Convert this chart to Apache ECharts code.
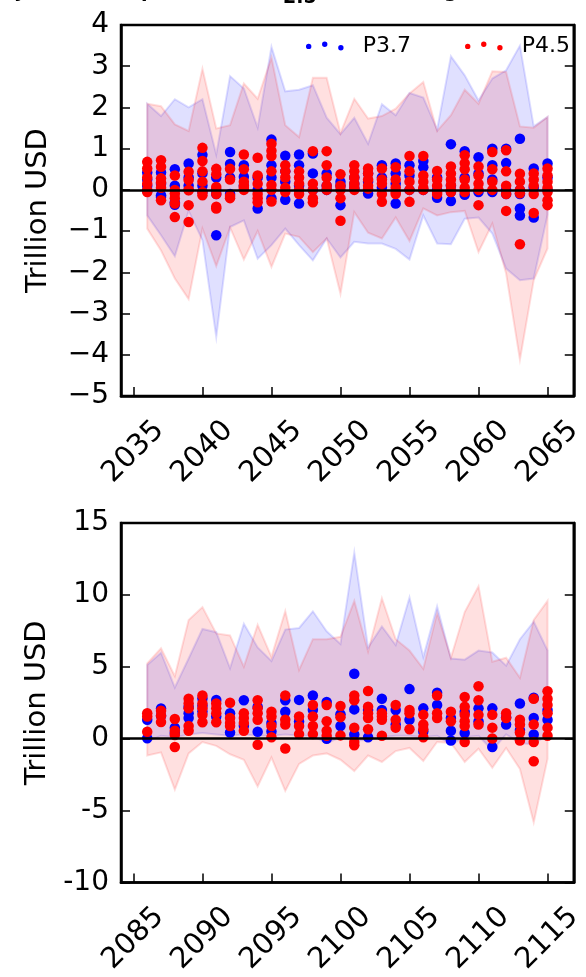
<!DOCTYPE html>
<html>
<head>
<meta charset="utf-8">
<script src="https://cdn.jsdelivr.net/npm/echarts@6/dist/echarts.min.js"></script>
<style>
  html, body { margin: 0; padding: 0; background: #fff; }
  #main { width: 586px; height: 977px; }
</style>
</head>
<body>
<div id="main"></div>
<script>
// years of each panel
const yearsTop = [2036, 2037, 2038, 2039, 2040, 2041, 2042, 2043, 2044, 2045,
  2046, 2047, 2048, 2049, 2050, 2051, 2052, 2053, 2054, 2055,
  2056, 2057, 2058, 2059, 2060, 2061, 2062, 2063, 2064, 2065];
const yearsBot = [2086, 2087, 2088, 2089, 2090, 2091, 2092, 2093, 2094, 2095,
  2096, 2097, 2098, 2099, 2100, 2101, 2102, 2103, 2104, 2105,
  2106, 2107, 2108, 2109, 2110, 2111, 2112, 2113, 2114, 2115];

// tick labels
const xTicksTop = [2035, 2040, 2045, 2050, 2055, 2060, 2065];
const xTicksBot = [2085, 2090, 2095, 2100, 2105, 2110, 2115];

// shaded bands (upper / lower)
const topHiP37 = [2.09, 1.79, 2.2, 2.0, 2.2, 0.86, 2.76, 2.46, 1.51, 3.47, 2.39, 2.43, 2.54, 1.75, 1.35,
  1.75, 1.12, 2.08, 1.81, 2.35, 2.24, 1.46, 3.24, 2.78, 2.17, 2.7, 2.9, 3.5, 1.54, 1.77];
const topLoP37 = [-0.62, -1.1, -1.61, -0.51, -1.22, -3.57, -0.9, -0.74, -1.67, -1.34, -0.94, -1.34, -1.71, -1.18, -1.64,
  -1.26, -1.3, -1.3, -1.43, -1.69, -0.62, -1.3, -1.32, -0.7, -0.67, -1.06, -1.91, -2.19, -2.15, -0.6];
const topHiP45 = [2.09, 2.03, 1.59, 1.43, 2.94, 1.49, 1.57, 2.58, 2.21, 3.21, 1.57, 1.28, 2.72, 2.72, 1.38,
  2.21, 1.73, 1.79, 1.97, 2.34, 2.62, 1.43, 1.81, 2.43, 2.09, 2.88, 2.86, 1.54, 1.51, 1.77];
const topLoP45 = [-0.94, -1.47, -2.15, -2.65, -0.94, -1.85, -0.91, -1.69, -1.0, -1.87, -1.06, -1.14, -1.51, -1.18, -2.52,
  -0.54, -1.04, -1.18, -0.67, -1.24, -0.45, -0.62, -0.54, -0.51, -1.51, -0.82, -2.03, -4.12, -2.19, -1.42];

const botHiP37 = [5.13, 5.98, 3.56, 5.58, 7.63, 7.41, 4.9, 7.99, 6.35, 5.4, 7.59, 7.7, 8.86, 7.47, 6.58,
  12.95, 6.35, 7.81, 6.51, 9.82, 5.69, 9.2, 5.58, 5.5, 6.13, 6.0, 5.08, 6.92, 8.14, 6.13];
const botLoP37 = [-0.2, 0.2, 0.1, 0.3, 0.4, 0.3, 0.2, 0.3, 0.2, 0.2, 0.3, 0.2, 0.2, -0.3, 0.1,
  -0.1, -0.1, 0.1, 0.2, 0.2, 0.1, 0.2, -0.4, 0.1, 0.2, -0.8, 0.3, -0.3, -0.4, 0.3];
const botHiP45 = [5.24, 6.29, 4.35, 8.26, 9.15, 7.32, 7.18, 5.01, 7.92, 5.69, 8.88, 4.79, 6.92, 6.92, 7.09,
  9.58, 6.07, 9.77, 6.92, 6.13, 4.86, 8.75, 5.63, 8.81, 10.6, 5.35, 5.63, 4.24, 8.26, 9.58];
const botLoP45 = [-1.17, -0.95, -3.54, -1.02, -0.23, -0.5, -1.08, -1.46, -3.32, -1.31, -3.63, -1.75, -1.17, -1.02, -1.46,
  -2.25, -1.17, -1.62, -0.86, -0.64, -1.55, -0.23, -0.3, -1.62, -0.7, -2.02, -0.64, -2.1, -5.82, -1.4];

// scatter values, one list per year
const topPtsP37 = [
  [0.42, 0.25, 0.1, -0.02], [0.42, 0.15, -0.17, -0.13], [0.5, 0.1, -0.36, -0.3], [0.64, 0.3, 0.1],
  [0.85, 0.4, 0.1, -0.05], [0.3, 0.0, -0.1, -1.1], [0.92, 0.63, 0.3, -0.1], [0.6, 0.32, 0.1],
  [0.3, 0.0, -0.45], [1.22, 0.6, 0.3, -0.2], [0.83, 0.45, 0.2, -0.24], [0.86, 0.6, 0.1, -0.33],
  [0.88, 0.4, 0.0], [0.4, 0.0, 0.1], [0.2, -0.37, 0.1], [0.3, 0.04, 0.15],
  [0.2, -0.09, 0.4], [0.3, 0.05, 0.6], [0.64, 0.4, 0.15, -0.33], [0.6, 0.35, 0.0],
  [0.7, 0.55, 0.0], [0.3, 0.0, -0.19], [1.11, 0.1, -0.27, -0.05], [0.94, 0.3, -0.12],
  [0.79, 0.4, -0.05], [1.0, 0.6, 0.25, -0.05], [1.0, 0.65, 0.0, -0.1], [1.24, 0.0, -0.1, -0.45, -0.62],
  [0.52, 0.05, -0.67], [0.64, 0.3, 0.0]
];
const topPtsP45 = [
  [0.68, 0.52, 0.3, 0.15, 0.0, -0.05], [0.72, 0.56, 0.28, 0.18, 0.05, -0.25], [0.35, 0.0, -0.09, -0.2, -0.33, -0.66],
  [0.44, 0.24, 0.0, -0.01, -0.37, -0.78], [1.02, 0.7, 0.45, 0.2, -0.05, -0.13], [0.51, 0.38, 0.07, -0.1, -0.41, -0.45],
  [0.51, 0.25, -0.15, -0.2], [0.86, 0.5, 0.2, 0.0, 0.05, 0.1], [0.78, 0.35, 0.15, -0.1, -0.2, -0.3],
  [1.12, 0.95, 0.82, 0.45, 0.12, 0.0, -0.28], [0.6, 0.45, 0.3, 0.05, -0.05], [0.45, 0.3, 0.15, 0.0, -0.1],
  [0.94, 0.15, 0.0, -0.2, -0.3], [0.94, 0.6, 0.3, 0.1, 0.0], [0.38, 0.1, 0.0, -0.2, -0.75],
  [0.6, 0.45, 0.3, 0.15, 0.05, 0.0], [0.52, 0.4, 0.25, 0.1, 0.03], [0.52, 0.25, 0.15, -0.1, -0.29],
  [0.55, 0.25, 0.05, -0.05, -0.1], [0.82, 0.45, 0.2, 0.0, -0.29], [0.82, 0.35, 0.2, 0.05, 0.0],
  [0.46, 0.25, 0.1, -0.05, -0.1], [0.57, 0.4, 0.25, 0.12, 0.0, -0.05], [0.84, 0.65, 0.5, 0.25, 0.05, -0.05],
  [0.57, 0.35, 0.15, 0.0, -0.37], [0.92, 0.5, 0.2, 0.0], [0.96, 0.45, 0.1, -0.1, -0.51],
  [0.39, 0.2, 0.0, -0.08, -1.32], [0.4, 0.25, 0.1, -0.1, -0.56], [0.52, 0.35, 0.2, 0.05, -0.05, -0.25, -0.37]
];
const botPtsP37 = [
  [1.32, 0.03], [2.1, 1.6], [0.77, 0.4], [1.77, 1.44, 2.2], [2.8, 2.3, 1.9], [2.7, 1.55],
  [1.77, 0.43], [2.68, 0.9], [2.22, 0.48], [1.1, 0.5], [2.68, 1.88], [2.7, 1.2],
  [3.0, 2.0], [2.56, -0.01], [0.88, 1.7], [4.52, 2.04, 0.3], [2.0, 0.1], [2.78, 2.0],
  [2.0, 0.99], [3.45, 1.32], [2.11, 0.5], [3.2, 2.34], [1.44, 0.55, -0.12], [1.88, 0.4],
  [2.11, 1.2], [2.11, -0.57], [0.99, 1.5], [2.45, 0.6], [2.85, 1.44, 0.3], [2.0, 1.32]
];
const botPtsP45 = [
  [1.77, 1.55, 0.48], [1.95, 1.6, 1.16], [1.37, 0.55, 0.26, -0.57], [2.78, 2.45, 2.11, 0.88, 0.55],
  [3.0, 2.45, 2.11, 1.66, 1.15], [2.45, 2.11, 1.77, 1.15], [2.5, 1.44, 1.1, 0.88], [1.77, 1.44, 1.1, 0.55],
  [2.68, 2.11, 1.77, 1.32, -0.42], [1.88, 1.55, 0.88, 0.1], [3.0, 1.32, 0.99, -0.68], [1.55, 0.88, 0.32],
  [2.34, 1.55, 0.88, 0.32], [2.34, 1.21, 0.55, 0.21], [2.27, 1.5, 0.23], [3.0, 2.68, 0.77, -0.23, -0.45],
  [3.32, 2.22, 1.77, 1.44, 0.66], [1.77, 1.55, 1.32, 0.21], [2.34, 1.32, 0.77], [2.0, 1.77, 0.66],
  [1.66, 0.99, 0.66, 0.1], [3.0, 1.77, 1.44], [1.88, 1.21], [2.9, 2.22, 1.66, 1.21, 0.88, -0.23],
  [3.65, 2.68, 1.66, 0.99], [1.66, 0.77, 0.01], [1.77, 1.44], [1.32, 0.99, 0.43, -0.12],
  [2.78, 0.99, -0.23, -1.57], [3.3, 2.78, 2.34, 1.77, 0.77, 0.21]
];

const FONT = "DejaVu Sans";
const BLUE = "#0000ff";
const RED = "#ff0000";

const chart = echarts.init(document.getElementById("main"));

// band drawn as one polygon: upper edge left->right, lower edge right->left
function band(g, years, lo, hi, rgb) {
  return {
    type: "custom", xAxisIndex: g, yAxisIndex: g * 2, silent: true, z: 1,
    data: years.map((y, i) => [y, lo[i], hi[i]]),
    renderItem: (params, api) => {
      if (params.dataIndex !== 0) return null;
      const n = params.dataInsideLength;
      const top = [], bot = [];
      for (let i = 0; i < n; i++) {
        const x = api.value(0, i);
        top.push(api.coord([x, api.value(2, i)]));
        bot.unshift(api.coord([x, api.value(1, i)]));
      }
      return {
        type: "polygon",
        shape: { points: top.concat(bot) },
        style: { fill: `rgba(${rgb},0.12)`, stroke: `rgba(${rgb},0.13)`, lineWidth: 2, lineJoin: "miter" }
      };
    }
  };
}

function points(years, vals) {
  const out = [];
  years.forEach((y, i) => vals[i].forEach(v => out.push([y, v])));
  return out;
}

function dots(name, g, data, color, z, zeroLine) {
  const s = {
    name: name, type: "scatter", xAxisIndex: g, yAxisIndex: g * 2,
    symbolSize: 10.5, itemStyle: { color: color, opacity: 1 }, z: z,
    data: data
  };
  if (zeroLine) {
    s.markLine = {
      silent: true, symbol: ["none", "none"], label: { show: false },
      lineStyle: { color: "#000", width: 2.5, type: "solid" },
      data: [{ yAxis: 0 }]
    };
  }
  return s;
}

function xAxisFor(g, min, max, ticks) {
  return {
    type: "value", gridIndex: g, min: min, max: max,
    axisLine: { show: true, onZero: false, lineStyle: { color: "#000", width: 2.5 } },
    axisTick: { show: true, inside: true, length: 9, customValues: ticks, lineStyle: { color: "#000", width: 1.5 } },
    axisLabel: {
      customValues: ticks, rotate: 45, align: "center", verticalAlign: "middle", margin: 56,
      fontSize: 29, color: "#000", fontFamily: FONT,
      formatter: v => String(v)
    },
    splitLine: { show: false }
  };
}

function yAxesFor(g, min, max, step, minus) {
  const common = {
    type: "value", gridIndex: g, min: min, max: max, interval: step,
    axisLine: { show: true, lineStyle: { color: "#000", width: 2.5 } },
    axisTick: { show: true, inside: true, length: 9, lineStyle: { color: "#000", width: 1.5 } },
    splitLine: { show: false }
  };
  return [
    Object.assign({}, common, {
      position: "left",
      axisLabel: {
        fontSize: 28, color: "#000", fontFamily: FONT, margin: 12,
        formatter: v => (v < 0 ? minus + (-v) : String(v))
      },
      name: "Trillion USD", nameLocation: "middle", nameGap: 68,
      nameTextStyle: { fontSize: 29, color: "#000", fontFamily: FONT }
    }),
    Object.assign({}, common, { position: "right", axisLabel: { show: false } })
  ];
}

const option = {
  animation: false,
  backgroundColor: "#fff",
  textStyle: { fontFamily: FONT },
  grid: [
    { left: 121, top: 25, width: 457, height: 371, show: true, borderColor: "#000", borderWidth: 2.5, backgroundColor: "transparent" },
    { left: 121, top: 523, width: 457, height: 373, show: true, borderColor: "#000", borderWidth: 2.5, backgroundColor: "transparent" }
  ],
  xAxis: [
    xAxisFor(0, 2034.1, 2066.9, xTicksTop),
    xAxisFor(1, 2084.1, 2116.9, xTicksBot)
  ],
  yAxis: [].concat(yAxesFor(0, -5, 4, 1, "\u2212"), yAxesFor(1, -10, 15, 5, "-")),
  legend: {
    data: ["P3.7", "P4.5"],
    left: 301, top: 30, itemGap: 54,
    itemWidth: 38, itemHeight: 9,
    icon: "path://M0,5a2.75,2.75 0 1,0 5.5,0a2.75,2.75 0 1,0 -5.5,0M16.4,2.75a2.75,2.75 0 1,0 5.5,0a2.75,2.75 0 1,0 -5.5,0M32.9,6.45a2.75,2.75 0 1,0 5.5,0a2.75,2.75 0 1,0 -5.5,0",
    textStyle: { fontSize: 22, color: "#000", fontFamily: FONT, padding: [0, 0, 4, 14] }
  },
  graphic: [
    { type: "text", x: 14, y: 1.5, style: { text: "y", font: "bold 19px DejaVu Sans", fill: "#000", verticalAlign: "bottom" } },
    { type: "text", x: 141, y: 1.5, style: { text: "p", font: "bold 19px DejaVu Sans", fill: "#000", verticalAlign: "bottom" } },
    { type: "text", x: 283, y: 7.5, style: { text: "2.5", font: "bold 19px DejaVu Sans", fill: "#000", verticalAlign: "bottom" } },
    { type: "text", x: 444, y: 1.5, style: { text: "g", font: "bold 19px DejaVu Sans", fill: "#000", verticalAlign: "bottom" } }
  ],
  series: [
    band(0, yearsTop, topLoP37, topHiP37, "0,0,255"),
    band(0, yearsTop, topLoP45, topHiP45, "255,0,0"),
    band(1, yearsBot, botLoP37, botHiP37, "0,0,255"),
    band(1, yearsBot, botLoP45, botHiP45, "255,0,0"),
    dots("P3.7", 0, points(yearsTop, topPtsP37), BLUE, 3, true),
    dots("P4.5", 0, points(yearsTop, topPtsP45), RED, 4, false),
    dots("P3.7", 1, points(yearsBot, botPtsP37), BLUE, 3, true),
    dots("P4.5", 1, points(yearsBot, botPtsP45), RED, 4, false)
  ]
};

chart.setOption(option);
</script>
</body>
</html>
